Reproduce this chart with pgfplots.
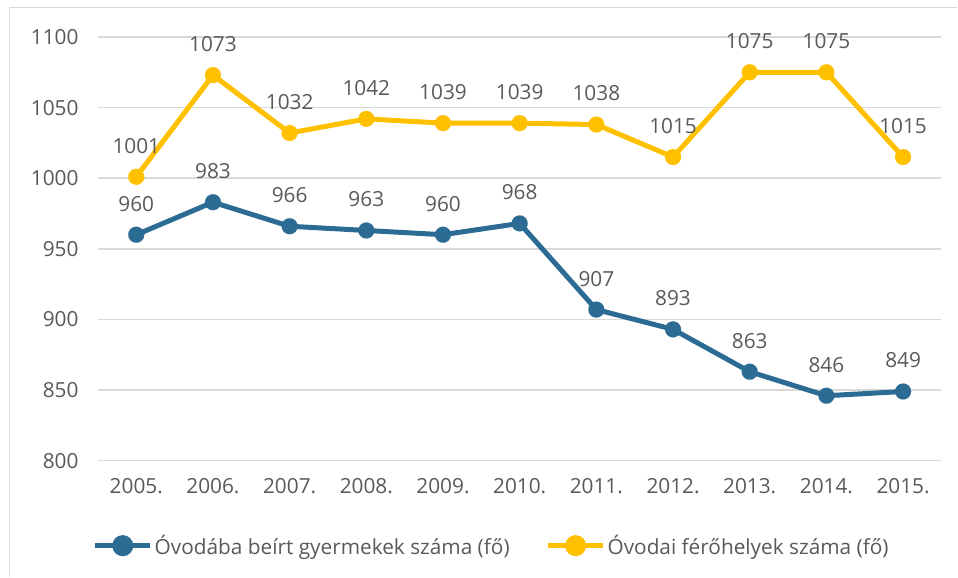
\documentclass[border=0pt]{standalone}
\usepackage{pgfplots}
\pgfplotsset{compat=1.18}
\usepackage{fontspec}
\setmainfont{Open Sans}
\definecolor{cblue}{HTML}{2C6B93}
\definecolor{cyel}{HTML}{FFC000}
\definecolor{ctxt}{HTML}{595959}
\definecolor{cgrid}{HTML}{D9D9D9}
\begin{document}
\begin{tikzpicture}
\path (0pt,0pt) rectangle (958pt,577pt);
\draw[cgrid,line width=1.2pt] (9.5pt,0pt) -- (9.5pt,569.5pt) -- (958pt,569.5pt);
\begin{axis}[
  at={(98pt,116pt)}, anchor=south west,
  scale only axis, width=844pt, height=424pt,
  xmin=-0.5, xmax=10.5, ymin=800, ymax=1100,
  ytick={800,850,...,1100},
  xtick={0,...,10},
  xticklabels={2005.,2006.,2007.,2008.,2009.,2010.,2011.,2012.,2013.,2014.,2015.},
  axis line style={draw=none},
  major tick length=0pt,
  ymajorgrids, grid style={cgrid,line width=1.5pt},
  tick label style={font=\fontsize{20.8}{24}\selectfont, text=ctxt},
  /pgf/number format/assume math mode=true,
  /pgf/number format/1000 sep={},
  yticklabel style={xshift=-16pt},
  xticklabel style={yshift=-14pt, text height=15pt, text depth=0pt},
  clip=false,
  nodes near coords,
  every node near coord/.append style={font=\fontsize{20.8}{24}\selectfont, text=ctxt, anchor=center, yshift=31pt},
  legend columns=2,
  legend style={at={(0.4668,-0.2005)}, anchor=center, draw=none, fill=none,
    font=\fontsize{20.8}{24}\selectfont, text=ctxt,
    /tikz/every even column/.append style={column sep=34pt}},
  legend image code/.code={%
    \draw[line width=5pt] (-4pt,0pt) -- (51pt,0pt);
    \fill (23.5pt,0pt) circle (8pt);},
]
\addplot[cblue, line width=5pt, mark=*, mark size=8pt, mark options={solid, line width=0.1pt}] coordinates {
(0,960)(1,983)(2,966)(3,963)(4,960)(5,968)(6,907)(7,893)(8,863)(9,846)(10,849)};
\addlegendentry{Óvodába beírt gyermekek száma (fő)}
\addplot[cyel, line width=5pt, mark=*, mark size=8pt, mark options={solid, line width=0.1pt}] coordinates {
(0,1001)(1,1073)(2,1032)(3,1042)(4,1039)(5,1039)(6,1038)(7,1015)(8,1075)(9,1075)(10,1015)};
\addlegendentry{Óvodai férőhelyek száma (fő)}
\end{axis}
\end{tikzpicture}
\end{document}
